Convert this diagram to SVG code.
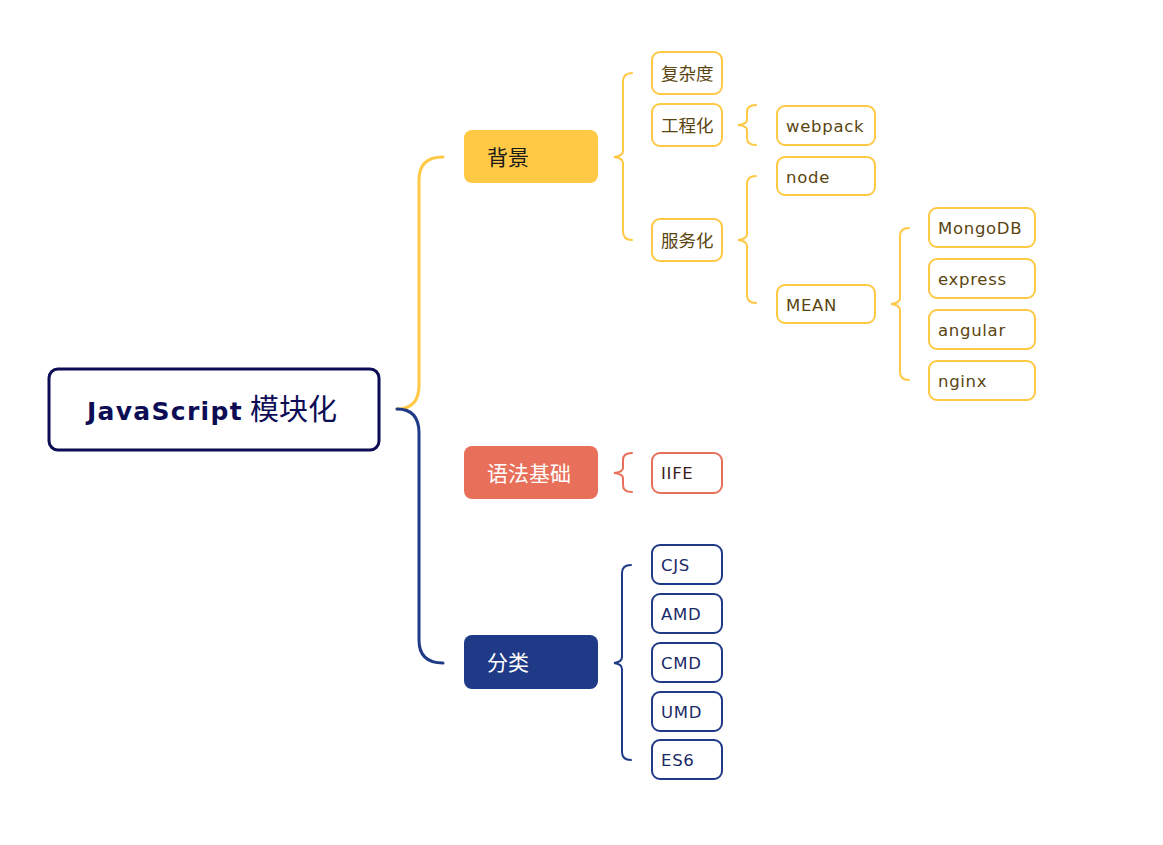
<svg xmlns="http://www.w3.org/2000/svg" width="1163" height="845" viewBox="0 0 1163 845">
<style>
.lbl{font-family:"DejaVu Sans","Noto Sans CJK SC",sans-serif;font-size:16.5px;letter-spacing:0.7px}
.y rect{fill:#fff;stroke:#ffc845;stroke-width:2}
.y text{fill:#5a4510}
.n rect{fill:#fff;stroke:#1f3a86;stroke-width:2}
.n text{fill:#1a2a66}
.r rect{fill:#fff;stroke:#e8705a;stroke-width:2}
.r text{fill:#3b1e1e}
.cjk{font-family:"Noto Sans CJK SC",sans-serif;font-size:17.5px;letter-spacing:0}
.br{fill:none;stroke-width:2;stroke-linecap:round}
.main{fill:none;stroke-width:3;stroke-linecap:round}
.cat{font-family:"Noto Sans CJK SC",sans-serif;font-size:21px}
</style>
<rect width="1163" height="845" fill="#fff"/>
<g id="connectors">
<path class="main" stroke="#ffc845" d="M397 409 Q419 409 419 385 L419 180 Q419 157 443 157"/>
<path class="main" stroke="#1f3a86" d="M397 409 Q419 409 419 433 L419 640 Q419 663 443 663"/>
<path class="br" stroke="#ffc845" d="M632 73 Q623 73 623 82 L623 151 Q623 156 614 157 Q623 158 623 163 L623 231 Q623 240 632 240"/>
<path class="br" stroke="#ffc845" d="M756 105 Q747 105 747 112 L747 120 Q747 124 738 125 Q747 126 747 130 L747 138 Q747 145 756 145"/>
<path class="br" stroke="#ffc845" d="M756 176 Q747 176 747 184 L747 234 Q747 239 738 240 Q747 241 747 246 L747 295 Q747 303 756 303"/>
<path class="br" stroke="#ffc845" d="M909 228 Q900 228 900 236 L900 298 Q900 303 891 304 Q900 305 900 310 L900 372 Q900 380 909 380"/>
<path class="br" stroke="#e8705a" d="M632 453 Q623 453 623 460 L623 468 Q623 472 614 473 Q623 474 623 478 L623 485 Q623 492 632 492"/>
<path class="br" stroke="#1f3a86" d="M631 565 Q622 565 622 573 L622 657 Q622 662 614 663 Q622 664 622 669 L622 752 Q622 760 631 760"/>
</g>
<g id="root">
<rect x="49" y="369" width="330" height="81" rx="9" fill="#fff" stroke="#0d0d56" stroke-width="3"/>
<text x="87" y="420" font-family="DejaVu Sans,'Noto Sans CJK SC',sans-serif" font-size="25" font-weight="bold" letter-spacing="1.3" fill="#0d0d56">JavaScript<tspan x="250" font-family="'Noto Sans CJK SC',sans-serif" font-weight="normal" font-size="29" letter-spacing="0">模块化</tspan></text>
</g>
<g id="bg">
<rect x="464" y="130" width="134" height="53" rx="8" fill="#ffc845"/>
<text class="cat" x="487" y="165" fill="#1a1a1a">背景</text>
</g>
<g id="yufa">
<rect x="464" y="446" width="134" height="53" rx="8" fill="#e8705a"/>
<text class="cat" x="487" y="481" fill="#fff">语法基础</text>
</g>
<g id="fenlei">
<rect x="464" y="635" width="134" height="54" rx="8" fill="#1f3a86"/>
<text class="cat" x="487" y="670" fill="#fff">分类</text>
</g>
<g id="fuzadu" class="y lbl"><rect x="652" y="52" width="70" height="42" rx="8"/><text class="cjk" x="661" y="80">复杂度</text></g>
<g id="gongcheng" class="y lbl"><rect x="652" y="104" width="70" height="42" rx="8"/><text class="cjk" x="661" y="132">工程化</text></g>
<g id="fuwu" class="y lbl"><rect x="652" y="219" width="70" height="42" rx="8"/><text class="cjk" x="661" y="247">服务化</text></g>
<g id="webpack" class="y lbl"><rect x="777" y="106" width="98" height="39" rx="8"/><text x="786" y="132">webpack</text></g>
<g id="node" class="y lbl"><rect x="777" y="157" width="98" height="38" rx="8"/><text x="786" y="183">node</text></g>
<g id="mean" class="y lbl"><rect x="777" y="285" width="98" height="38" rx="8"/><text x="786" y="311">MEAN</text></g>
<g id="mongodb" class="y lbl"><rect x="929" y="208" width="106" height="39" rx="8"/><text x="938" y="234">MongoDB</text></g>
<g id="express" class="y lbl"><rect x="929" y="259" width="106" height="39" rx="8"/><text x="938" y="285">express</text></g>
<g id="angular" class="y lbl"><rect x="929" y="310" width="106" height="39" rx="8"/><text x="938" y="336">angular</text></g>
<g id="nginx" class="y lbl"><rect x="929" y="361" width="106" height="39" rx="8"/><text x="938" y="387">nginx</text></g>
<g id="iife" class="r lbl"><rect x="652" y="453" width="70" height="40" rx="8"/><text x="661" y="479">IIFE</text></g>
<g id="cjs" class="n lbl"><rect x="652" y="545" width="70" height="39" rx="8"/><text x="661" y="571">CJS</text></g>
<g id="amd" class="n lbl"><rect x="652" y="594" width="70" height="39" rx="8"/><text x="661" y="620">AMD</text></g>
<g id="cmd" class="n lbl"><rect x="652" y="643" width="70" height="39" rx="8"/><text x="661" y="669">CMD</text></g>
<g id="umd" class="n lbl"><rect x="652" y="692" width="70" height="39" rx="8"/><text x="661" y="718">UMD</text></g>
<g id="es6" class="n lbl"><rect x="652" y="740" width="70" height="39" rx="8"/><text x="661" y="766">ES6</text></g>
</svg>
